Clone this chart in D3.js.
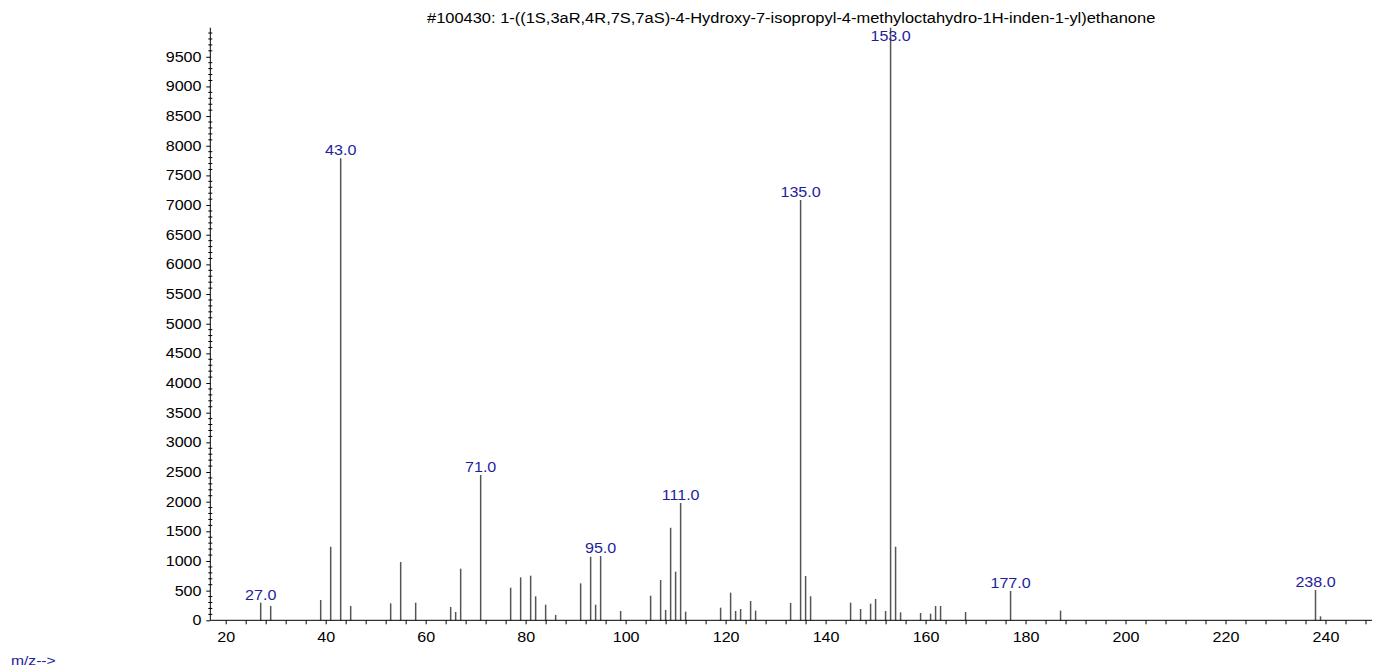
<!DOCTYPE html>
<html>
<head>
<meta charset="utf-8">
<script src="https://cdn.jsdelivr.net/npm/d3@7"></script>
<style>
  html, body { margin: 0; padding: 0; background: #fff; }
  svg { display: block; }
  text { font-family: "Liberation Sans", Arial, sans-serif; }
</style>
</head>
<body>
<svg id="chart" width="1384" height="671"></svg>
<script>
// Mass spectrum: m/z values and their abundances
const title = "#100430: 1-((1S,3aR,4R,7S,7aS)-4-Hydroxy-7-isopropyl-4-methyloctahydro-1H-inden-1-yl)ethanone";
const mz = [27, 29, 39, 41, 43, 45, 53, 55, 58, 65, 66, 67, 71,
            77, 79, 81, 82, 84, 86, 91, 93, 94, 95, 99,
            105, 107, 108, 109, 110, 111, 112, 119, 121, 122, 123, 125, 126,
            133, 135, 136, 137, 145, 147, 149, 150, 152, 153, 154, 155,
            159, 161, 162, 163, 168, 177, 187, 238, 239];
const abundance = [297, 241, 342, 1240, 7790, 241, 286, 982, 297, 224, 140, 870, 2450,
                   550, 724, 752, 404, 263, 90, 623, 1072, 263, 1084, 157,
                   415, 679, 174, 1560, 820, 1977, 146, 213, 466, 157, 191, 326, 163,
                   292, 7084, 747, 404, 297, 191, 281, 359, 157, 9990, 1240, 135,
                   123, 112, 241, 241, 140, 494, 163, 511, 67];
const labelled = [27, 43, 71, 95, 111, 135, 153, 177, 238];
const xTicks = [20, 40, 60, 80, 100, 120, 140, 160, 180, 200, 220, 240];
const yTicks = [0, 500, 1000, 1500, 2000, 2500, 3000, 3500, 4000, 4500,
                5000, 5500, 6000, 6500, 7000, 7500, 8000, 8500, 9000, 9500];

const svg = d3.select("#chart");
const plot = { left: 210.3, right: 1372, top: 27.7, bottom: 620.3 };
const stretch = 1.15; // glyphs are drawn slightly wide

const x = d3.scaleLinear().domain([16.92, 249.3]).range([plot.left, plot.right]);
const y = d3.scaleLinear().domain([0, d3.max(abundance)]).range([plot.bottom, plot.top]);

const peaks = mz.map((m, i) => ({ m, v: abundance[i] }));

// Title centred over the plot
svg.append("text")
  .attr("transform", `translate(${(plot.left + plot.right) / 2},22.5) scale(1.175,1)`)
  .attr("text-anchor", "middle")
  .attr("font-size", 14)
  .attr("fill", "#000")
  .text(title);

// Peak sticks
svg.append("g").selectAll("line").data(peaks).join("line")
  .attr("x1", d => x(d.m)).attr("x2", d => x(d.m))
  .attr("y1", y(0)).attr("y2", d => y(d.v))
  .attr("stroke", "#555").attr("stroke-width", 1.5);

// X axis with minor ticks every 4 units
const xAxis = d3.axisBottom(x)
  .tickValues(d3.range(20, 249, 4))
  .tickSize(4)
  .tickFormat(d => xTicks.includes(d) ? d : "");
const gx = svg.append("g").attr("transform", `translate(0,${plot.bottom})`).call(xAxis);
gx.select(".domain").attr("d", `M${plot.left},0H${plot.right}`).attr("stroke", "#000");
gx.selectAll(".tick line").attr("stroke", "#000");
gx.selectAll(".tick text")
  .attr("font-size", 14).attr("fill", "#000").attr("dy", "0.71em").attr("y", 12)
  .attr("transform", `scale(${stretch},1)`)
  .attr("font-family", "Liberation Sans, Arial, sans-serif");

// Y axis: major ticks with labels, minor ticks every 100
const yAxis = d3.axisLeft(y).tickValues(yTicks).tickSize(4).tickFormat(d3.format("d"));
const gy = svg.append("g").attr("transform", `translate(${plot.left},0)`).call(yAxis);
gy.select(".domain").attr("d", `M0,${plot.top}V${plot.bottom}`).attr("stroke", "#000");
gy.selectAll(".tick line").attr("stroke", "#000");
gy.selectAll(".tick text")
  .attr("font-size", 14).attr("fill", "#000")
  .attr("x", -8.8 / stretch)
  .attr("transform", `scale(${stretch},1)`)
  .attr("font-family", "Liberation Sans, Arial, sans-serif");
gy.append("g").selectAll("line")
  .data(d3.range(0, y.domain()[1], 100).filter(v => v % 500 !== 0))
  .join("line")
  .attr("x1", -2).attr("x2", 2)
  .attr("y1", d => y(d)).attr("y2", d => y(d))
  .attr("stroke", "#000").attr("stroke-width", 1);

// Peak labels, kept inside the plot area
svg.append("g").selectAll("text").data(peaks.filter(d => labelled.includes(d.m))).join("text")
  .attr("transform", d => `translate(${x(d.m)},${Math.max(y(d.v) - 3, plot.top + 13.5)}) scale(${stretch},1)`)
  .attr("text-anchor", "middle")
  .attr("font-size", 14)
  .attr("fill", "#1e1e9e")
  .text(d => d.m.toFixed(1));

// Axis caption
svg.append("text")
  .attr("transform", `translate(11,665) scale(1.25,1)`)
  .attr("font-size", 12.5)
  .attr("fill", "#1e1e9e")
  .text("m/z-->");
</script>
</body>
</html>
